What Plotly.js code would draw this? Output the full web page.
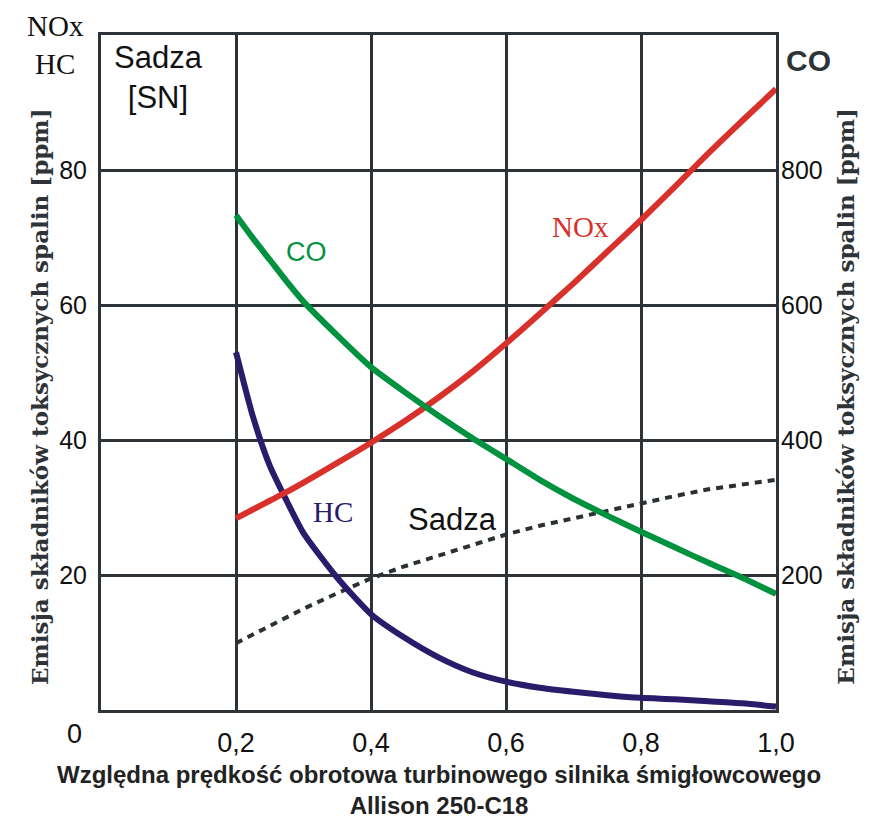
<!DOCTYPE html>
<html>
<head>
<meta charset="utf-8">
<script src="https://cdn.plot.ly/plotly-3.0.1.min.js"></script>
<style>html,body{margin:0;padding:0;background:#fff;}#chart{width:877px;height:822px;}</style>
</head>
<body>
<div id="chart"></div>
<script>
// Relative turbine speed (x)
const speed = [0.2, 0.225, 0.25, 0.275, 0.3, 0.35, 0.4, 0.45, 0.5, 0.55, 0.6, 0.65, 0.7, 0.75, 0.8, 0.85, 0.9, 0.95, 1.0];
// NOx [ppm] (left axis)
const nox = [28.4, 29.7, 31.0, 32.3, 33.7, 36.6, 39.6, 42.8, 46.3, 50.1, 54.3, 58.7, 63.2, 67.9, 72.6, 77.5, 82.5, 87.3, 92.0];
// HC [ppm] (left axis)
const hc = [53.0, 43.5, 36.2, 31.0, 26.2, 19.6, 14.2, 10.7, 7.8, 5.6, 4.2, 3.3, 2.7, 2.2, 1.8, 1.6, 1.3, 1.0, 0.5];
// CO [ppm] (right axis)
const co = [733, 699, 667, 635, 605, 555, 508, 471, 436, 403, 372, 341, 313, 288, 264, 241, 218, 196, 172];
// Soot / Sadza [SN] (left axis)
const sadza = [9.9, 11.2, 12.5, 13.8, 15.0, 17.3, 19.5, 21.3, 22.9, 24.5, 26.0, 27.3, 28.4, 29.5, 30.7, 31.7, 32.7, 33.4, 34.1];

const xTicks = [0.2, 0.4, 0.6, 0.8, 1.0];
const xTickText = ['0,2', '0,4', '0,6', '0,8', '1,0'];
const yTicks = [20, 40, 60, 80];
const y2Ticks = [200, 400, 600, 800];

const gridCol = '#2d3336';
const cNOx = '#d8312b', cCO = '#00923f', cHC = '#2b1b6b', cSadza = '#2b3033';

const traces = [
  {x: speed, y: sadza, mode: 'lines', line: {color: cSadza, width: 4, dash: '7px,6px'}, yaxis: 'y', hoverinfo: 'skip'},
  {x: speed, y: co, mode: 'lines', line: {color: cCO, width: 6, shape: 'spline', smoothing: 0.6}, yaxis: 'y2', hoverinfo: 'skip'},
  {x: speed, y: hc, mode: 'lines', line: {color: cHC, width: 6, shape: 'spline', smoothing: 0.6}, yaxis: 'y', hoverinfo: 'skip'},
  {x: speed, y: nox, mode: 'lines', line: {color: cNOx, width: 6, shape: 'spline', smoothing: 0.6}, yaxis: 'y', hoverinfo: 'skip'}
];

const tickFontL = {family: 'Liberation Sans, Arial, sans-serif', size: 25, color: '#111'};
const serifAxis = {family: 'DejaVu Serif, Liberation Serif, serif', size: 23, color: '#2d3336', weight: 'bold'};

const layout = {
  width: 877, height: 822,
  margin: {l: 101, r: 101, t: 35, b: 112},
  paper_bgcolor: '#fff', plot_bgcolor: '#fff',
  showlegend: false,
  xaxis: {
    range: [0, 1], tickvals: xTicks, ticktext: xTickText,
    showgrid: true, gridcolor: gridCol, gridwidth: 3,
    showline: true, linecolor: gridCol, linewidth: 3, mirror: true,
    zeroline: false, ticks: '', ticklabelstandoff: 7,
    tickfont: {family: 'Liberation Sans Narrow, Arial Narrow, Liberation Sans, sans-serif', size: 27, color: '#111'}
  },
  yaxis: {
    range: [0, 100], tickvals: yTicks,
    showgrid: true, gridcolor: gridCol, gridwidth: 3,
    showline: true, linecolor: gridCol, linewidth: 3, mirror: true,
    zeroline: false, ticks: '', ticklabelstandoff: 6,
    tickfont: tickFontL
  },
  yaxis2: {
    range: [0, 1000], tickvals: y2Ticks, overlaying: 'y', side: 'right',
    showgrid: false, showline: false, zeroline: false, ticks: '', ticklabelstandoff: 4,
    tickfont: tickFontL
  },
  annotations: [
    {text: '0', xref: 'paper', yref: 'paper', x: -0.04, y: 0, yshift: -24, showarrow: false, xanchor: 'center', yanchor: 'middle',
     font: {family: 'Liberation Sans Narrow, Arial Narrow, Liberation Sans, sans-serif', size: 27, color: '#111'}},
    {text: 'NOx<br>HC', xref: 'paper', yref: 'paper', x: -0.068, y: 1.04, showarrow: false, xanchor: 'center', yanchor: 'top', align: 'center',
     font: {family: 'Liberation Serif, serif', size: 29, color: '#111'}},
    {text: 'Sadza<br>[SN]', xref: 'paper', yref: 'paper', x: 0.085, y: 0.995, showarrow: false, xanchor: 'center', yanchor: 'top', align: 'center',
     font: {family: 'Liberation Sans, sans-serif', size: 31, color: '#111'}},
    {text: '<b>CO</b>', xref: 'paper', yref: 'paper', x: 1.012, y: 0.99, showarrow: false, xanchor: 'left', yanchor: 'top',
     font: {family: 'Liberation Sans, sans-serif', size: 30, color: '#2d3336'}},
    {text: 'Emisja składników toksycznych spalin [ppm]', xref: 'paper', yref: 'paper', x: -0.092, y: 0.465, showarrow: false,
     textangle: -90, xanchor: 'center', yanchor: 'middle', font: serifAxis},
    {text: 'Emisja składników toksycznych spalin [ppm]', xref: 'paper', yref: 'paper', x: 1.103, y: 0.465, showarrow: false,
     textangle: -90, xanchor: 'center', yanchor: 'middle', font: serifAxis},
    {text: '<b>Względna prędkość obrotowa turbinowego silnika śmigłowcowego</b><br><b>Allison 250-C18</b>', xref: 'paper', yref: 'paper',
     x: 0.5, y: -0.072, showarrow: false, xanchor: 'center', yanchor: 'top', align: 'center',
     font: {family: 'Liberation Sans, Arial, sans-serif', size: 24, color: '#222'}},
    {text: 'CO', xref: 'x', yref: 'y', x: 0.305, y: 67.8, showarrow: false, xanchor: 'center', yanchor: 'middle',
     font: {family: 'Liberation Sans, sans-serif', size: 27, color: cCO}},
    {text: 'NOx', xref: 'x', yref: 'y', x: 0.71, y: 71.5, showarrow: false, xanchor: 'center', yanchor: 'middle',
     font: {family: 'Liberation Serif, serif', size: 29, color: cNOx}},
    {text: 'HC', xref: 'x', yref: 'y', x: 0.343, y: 29.3, showarrow: false, xanchor: 'center', yanchor: 'middle',
     font: {family: 'Liberation Serif, serif', size: 29, color: cHC}},
    {text: 'Sadza', xref: 'x', yref: 'y', x: 0.52, y: 28.2, showarrow: false, xanchor: 'center', yanchor: 'middle',
     font: {family: 'Liberation Sans, sans-serif', size: 31, color: '#111'}}
  ]
};

Plotly.newPlot('chart', traces, layout, {staticPlot: true, displayModeBar: false});
</script>
</body>
</html>
